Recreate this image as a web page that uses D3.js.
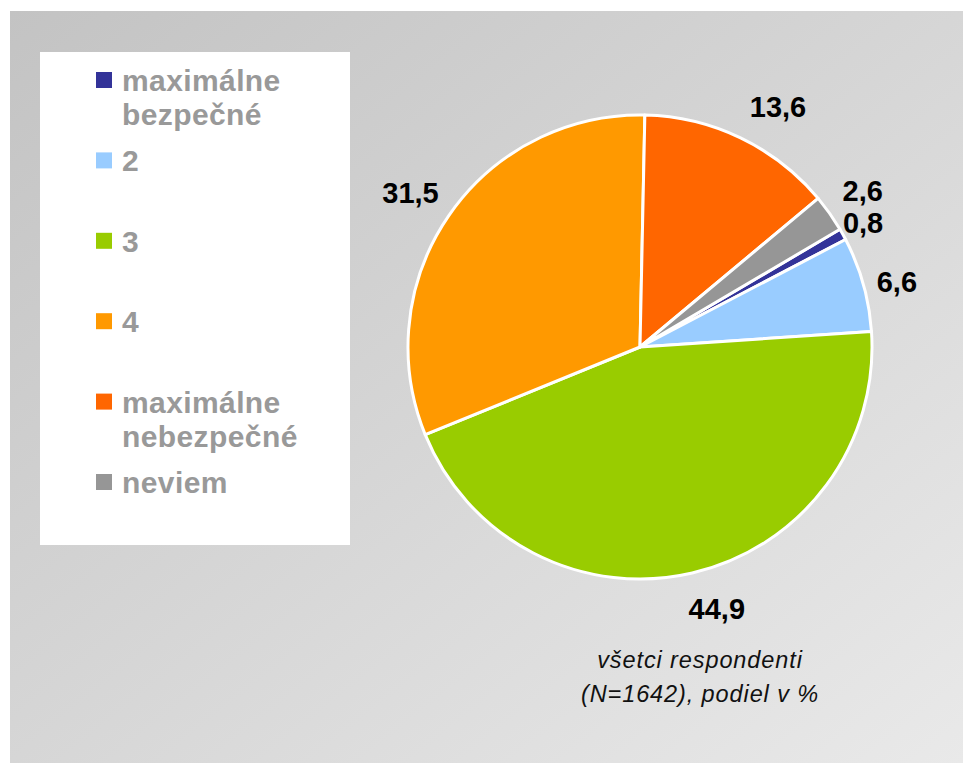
<!DOCTYPE html>
<html>
<head>
<meta charset="utf-8">
<script src="https://cdn.jsdelivr.net/npm/d3@7"></script>
<style>
  body { margin: 0; background: #fff; }
  text { font-family: "Liberation Sans", Arial, sans-serif; }
</style>
</head>
<body>
<svg id="chart" width="963" height="763"></svg>
<script>
// categories in legend order
var categories = ["maximálne bezpečné", "2", "3", "4", "maximálne nebezpečné", "neviem"];
// share in %, same order
var shares = [0.8, 6.6, 44.9, 31.5, 13.6, 2.6];
var valueLabels = ["0,8", "6,6", "44,9", "31,5", "13,6", "2,6"];
var colors = ["#333399", "#99ccff", "#99cc00", "#ff9900", "#ff6600", "#969696"];
var captionLines = ["všetci respondenti", "(N=1642), podiel v %"];

// small label nudges (layout only), px
var labelNudge = [[-13, 7], [-3, 8], [16, -1], [-7, -2], [21, 3], [2, -1]];

var svg = d3.select("#chart");

// background panel with soft diagonal gradient
var defs = svg.append("defs");
var grad = defs.append("linearGradient")
  .attr("id", "bg")
  .attr("x1", "0%").attr("y1", "0%")
  .attr("x2", "100%").attr("y2", "100%");
grad.append("stop").attr("offset", "0%").attr("stop-color", "#c3c3c3");
grad.append("stop").attr("offset", "100%").attr("stop-color", "#e9e9e9");

svg.append("rect")
  .attr("x", 10).attr("y", 11)
  .attr("width", 953).attr("height", 752)
  .attr("fill", "url(#bg)");

// legend box
svg.append("rect")
  .attr("x", 40).attr("y", 52)
  .attr("width", 310).attr("height", 493)
  .attr("fill", "#fff");

var legendY = d3.scalePoint()
  .domain(d3.range(categories.length))
  .range([91, 493]);

var legend = svg.selectAll(".legend")
  .data(categories)
  .enter().append("g")
  .attr("class", "legend")
  .attr("transform", function(d, i) { return "translate(96," + legendY(i) + ")"; });

legend.append("rect")
  .attr("x", 0)
  .attr("y", -19)
  .attr("width", 16)
  .attr("height", 16)
  .attr("fill", function(d, i) { return colors[i]; });

legend.append("text")
  .attr("x", 26)
  .attr("y", 0)
  .style("font-size", "30px")
  .style("font-weight", "bold")
  .style("letter-spacing", "0.4px")
  .attr("fill", "#999999")
  .each(function(d) {
    var words = d.split(" ");
    var t = d3.select(this);
    words.forEach(function(w, j) {
      t.append("tspan").attr("x", 26).attr("dy", j === 0 ? 0 : 34).text(w);
    });
  });

// pie
var cx = 640, cy = 347, radius = 232;
var startDeg = 59.52;

var pie = d3.pie()
  .sort(null)
  .value(function(d) { return d; })
  .startAngle(startDeg * Math.PI / 180)
  .endAngle((startDeg + 360) * Math.PI / 180);

var arcs = pie(shares);

var arc = d3.arc().innerRadius(0).outerRadius(radius);
var labelArc = d3.arc().innerRadius(270).outerRadius(270);

var g = svg.append("g").attr("transform", "translate(" + cx + "," + cy + ")");

g.selectAll("path.slice")
  .data(arcs)
  .enter().append("path")
  .attr("class", "slice")
  .attr("d", arc)
  .attr("fill", function(d, i) { return colors[i]; })
  .attr("stroke", "#fff")
  .attr("stroke-width", 3)
  .attr("stroke-linejoin", "round");

g.selectAll("text.val")
  .data(arcs)
  .enter().append("text")
  .attr("class", "val")
  .attr("x", function(d, i) { return labelArc.centroid(d)[0] + labelNudge[i][0]; })
  .attr("y", function(d, i) { return labelArc.centroid(d)[1] + labelNudge[i][1]; })
  .attr("dy", "0.36em")
  .attr("text-anchor", "middle")
  .style("font-size", "29px")
  .style("font-weight", "bold")
  .attr("fill", "#000")
  .text(function(d, i) { return valueLabels[i]; });

// caption
svg.append("text")
  .attr("x", 700)
  .attr("y", 668)
  .attr("text-anchor", "middle")
  .style("font-size", "23.5px")
  .style("font-style", "italic")
  .style("letter-spacing", "0.9px")
  .attr("fill", "#111")
  .selectAll("tspan")
  .data(captionLines)
  .enter().append("tspan")
  .attr("x", 700)
  .attr("dy", function(d, i) { return i === 0 ? 0 : 34; })
  .text(function(d) { return d; });
</script>
</body>
</html>
